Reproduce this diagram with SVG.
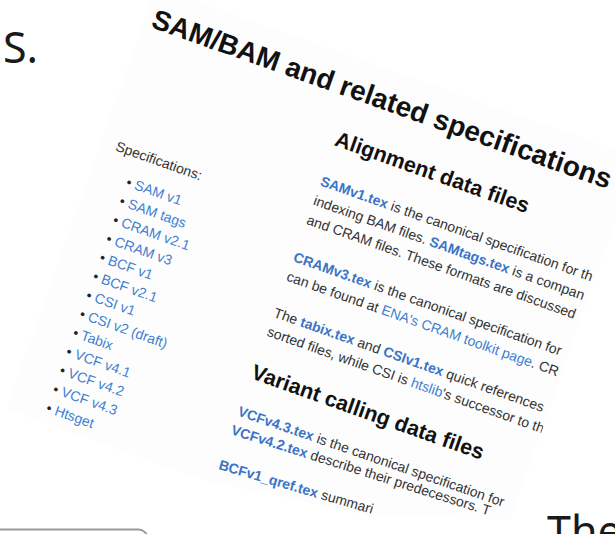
<svg xmlns="http://www.w3.org/2000/svg" width="615" height="534" viewBox="0 0 615 534">
  <style>
    .h1 { font-family: "Liberation Sans", Arial, sans-serif; font-size: 28px; font-weight: bold; fill: #111; }
    .h2 { font-family: "Liberation Sans", Arial, sans-serif; font-size: 21.5px; font-weight: bold; fill: #111; }
    .t  { font-family: "Liberation Sans", Arial, sans-serif; font-size: 14px; fill: #333; }
    .a  { fill: #3f7fd0; }
    .ab { fill: #3a74c6; font-weight: bold; }
    .bul { fill: #222; }
    .slide { font-family: "Noto Sans", "Open Sans", sans-serif; font-size: 43px; fill: #1a1a1a; }
  </style>
  <defs>
    <!-- visible part of the tilted web page screenshot -->
    <clipPath id="shotClip">
      <polygon points="155.9,-13.4 637.5,157.2 511,519 380,518 205,481 6.3,408.9"/>
    </clipPath>
  </defs>

  <rect width="615" height="534" fill="#fff"/>

  <!-- slide text around the screenshot -->
  <text id="slide-word-top" class="slide" x="3" y="63">S.</text>
  <text id="slide-word-bottom" class="slide" x="547" y="547">The</text>

  <!-- rounded box at the lower left -->
  <rect id="slide-box" x="-12" y="529.5" width="159.5" height="40" rx="9" fill="#fff" stroke="#999" stroke-width="2"/>

  <!-- tilted screenshot of the specifications page -->
  <g id="page-shot" clip-path="url(#shotClip)">
    <polygon points="155.9,-13.4 637.5,157.2 511,519 380,518 205,481 6.3,408.9" fill="#fdfdfd"/>
    <g transform="translate(150,27) rotate(19.5)">
      <text id="title" class="h1" x="0" y="0">SAM/BAM and related specifications</text>

      <g id="sidebar">
        <text class="t" x="8" y="128">Specifications:</text>
        <text class="t" x="29.8" y="158.2"><tspan class="bul">•</tspan> <tspan class="a">SAM v1</tspan></text>
        <text class="t" x="29.8" y="178.15"><tspan class="bul">•</tspan> <tspan class="a">SAM tags</tspan></text>
        <text class="t" x="29.8" y="198.1"><tspan class="bul">•</tspan> <tspan class="a">CRAM v2.1</tspan></text>
        <text class="t" x="29.8" y="218.05"><tspan class="bul">•</tspan> <tspan class="a">CRAM v3</tspan></text>
        <text class="t" x="29.8" y="238"><tspan class="bul">•</tspan> <tspan class="a">BCF v1</tspan></text>
        <text class="t" x="29.8" y="257.95"><tspan class="bul">•</tspan> <tspan class="a">BCF v2.1</tspan></text>
        <text class="t" x="29.8" y="277.9"><tspan class="bul">•</tspan> <tspan class="a">CSI v1</tspan></text>
        <text class="t" x="29.8" y="297.85"><tspan class="bul">•</tspan> <tspan class="a">CSI v2 (draft)</tspan></text>
        <text class="t" x="29.8" y="317.8"><tspan class="bul">•</tspan> <tspan class="a">Tabix</tspan></text>
        <text class="t" x="29.8" y="337.75"><tspan class="bul">•</tspan> <tspan class="a">VCF v4.1</tspan></text>
        <text class="t" x="29.8" y="357.7"><tspan class="bul">•</tspan> <tspan class="a">VCF v4.2</tspan></text>
        <text class="t" x="29.8" y="377.65"><tspan class="bul">•</tspan> <tspan class="a">VCF v4.3</tspan></text>
        <text class="t" x="29.8" y="397.6"><tspan class="bul">•</tspan> <tspan class="a">Htsget</tspan></text>
      </g>

      <g id="alignment-section">
        <text class="h2" x="212.5" y="50">Alignment data files</text>
        <text class="t" x="212.5" y="92.5"><tspan class="ab">SAMv1.tex</tspan> is the canonical specification for th</text>
        <text class="t" x="212.5" y="113">indexing BAM files. <tspan class="ab">SAMtags.tex</tspan> is a compan</text>
        <text class="t" x="212.5" y="133.5">and CRAM files. These formats are discussed</text>
        <text class="t" x="212.5" y="173"><tspan class="ab">CRAMv3.tex</tspan> is the canonical specification for</text>
        <text class="t" x="212.5" y="193.5">can be found at <tspan class="a">ENA's CRAM toolkit page</tspan>. CR</text>
        <text class="t" x="212.5" y="232">The <tspan class="ab">tabix.tex</tspan> and <tspan class="ab">CSIv1.tex</tspan> quick references</text>
        <text class="t" x="212.5" y="252">sorted files, while CSI is <tspan class="a">htslib</tspan>'s successor to th</text>
      </g>

      <g id="variant-heading">
        <text class="h2" x="211.5" y="297.5">Variant calling data files</text>
      </g>
    </g>

    <!-- lower lines flatten slightly where the page bends -->
    <g id="variant-section">
      <text class="t" transform="translate(236.9,415.3) rotate(19)"><tspan class="ab">VCFv4.3.tex</tspan> is the canonical specification for</text>
      <text class="t" transform="translate(230.2,434.1) rotate(17.5)"><tspan class="ab">VCFv4.2.tex</tspan> describe their predecessors. T</text>
      <text class="t" transform="translate(217.9,469) rotate(16.3)"><tspan class="ab">BCFv1_qref.tex</tspan> summari</text>
    </g>
  </g>
</svg>
